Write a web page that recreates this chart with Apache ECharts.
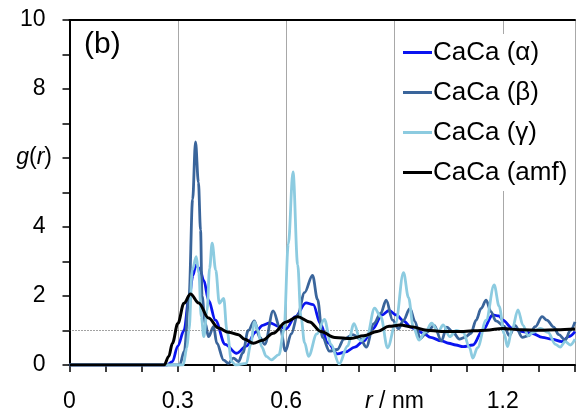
<!DOCTYPE html>
<html>
<head>
<meta charset="utf-8">
<script src="https://cdn.jsdelivr.net/npm/echarts@6/dist/echarts.min.js"></script>
<style>html,body{margin:0;padding:0;background:#fff}#c{width:578px;height:417px}</style>
</head>
<body>
<div id="c"></div>
<script>
var seriesNames = ['CaCa (\u03b1)', 'CaCa (\u03b2)', 'CaCa (\u03b3)', 'CaCa (amf)'];
var xTickLabels = ['0', '0.3', '0.6', 'r / nm', '1.2'];
var yTickLabels = ['0', '2', '4', 'g(r)', '8', '10'];

var alphaR = [0, 0.27, 0.285, 0.30, 0.317, 0.331, 0.342, 0.350, 0.360, 0.372, 0.385, 0.404, 0.431, 0.463, 0.49, 0.515, 0.535, 0.555, 0.58, 0.60, 0.625, 0.655, 0.675, 0.695, 0.715, 0.742, 0.765, 0.79, 0.815, 0.84, 0.865, 0.885, 0.905, 0.925, 0.945, 0.96, 0.98, 1.0, 1.03, 1.05, 1.07, 1.09, 1.117, 1.145, 1.172, 1.19, 1.2, 1.227, 1.254, 1.28, 1.31, 1.335, 1.364, 1.382, 1.40];
var alphaG = [0, 0, 0.1, 0.55, 1.0, 1.95, 2.6, 2.9, 2.8, 2.45, 1.88, 1.3, 0.6, 0.34, 0.55, 0.95, 1.15, 1.22, 1.12, 1.05, 1.4, 1.8, 1.75, 1.2, 0.65, 0.32, 0.38, 0.52, 0.7, 1.05, 1.45, 1.58, 1.45, 1.28, 1.1, 1.02, 0.92, 0.8, 0.7, 0.63, 0.58, 0.53, 0.58, 1.01, 1.45, 1.42, 1.3, 1.06, 0.97, 0.92, 0.8, 0.75, 0.68, 0.82, 0.97];

var betaR = [0, 0.305, 0.318, 0.331, 0.341, 0.349, 0.357, 0.363, 0.367, 0.376, 0.385, 0.399, 0.408, 0.427, 0.44, 0.454, 0.468, 0.48, 0.495, 0.512, 0.527, 0.541, 0.564, 0.584, 0.598, 0.614, 0.632, 0.651, 0.673, 0.687, 0.701, 0.72, 0.742, 0.76, 0.785, 0.806, 0.822, 0.843, 0.862, 0.877, 0.895, 0.911, 0.925, 0.943, 0.957, 0.971, 0.99, 1.01, 1.03, 1.045, 1.062, 1.08, 1.095, 1.112, 1.126, 1.14, 1.154, 1.167, 1.181, 1.204, 1.218, 1.234, 1.254, 1.272, 1.29, 1.309, 1.322, 1.341, 1.355, 1.373, 1.387, 1.40];
var betaG = [0, 0, 0.4, 1.98, 4.8, 6.47, 5.3, 3.91, 2.0, 1.21, 0.82, 1.11, 0.63, 0.14, 0.05, 0.2, 0.1, 0.35, 1.0, 1.28, 0.8, 0.6, 1.57, 1.05, 0.41, 0.9, 1.45, 2.1, 2.6, 1.9, 0.8, 0.4, 0.45, 0.75, 0.88, 0.75, 0.52, 1.2, 1.5, 1.88, 1.3, 1.05, 1.3, 1.64, 1.26, 0.77, 0.95, 1.15, 0.7, 1.1, 0.95, 0.75, 0.8, 0.92, 1.3, 1.64, 1.88, 1.55, 1.28, 1.12, 0.85, 1.15, 0.8, 0.85, 1.11, 1.4, 1.3, 1.1, 0.88, 0.72, 1.0, 1.25];

var gammaR = [0, 0.315, 0.325, 0.331, 0.34, 0.351, 0.358, 0.365, 0.372, 0.381, 0.388, 0.395, 0.405, 0.415, 0.427, 0.436, 0.449, 0.46, 0.49, 0.502, 0.512, 0.522, 0.532, 0.545, 0.559, 0.58, 0.594, 0.606, 0.619, 0.632, 0.641, 0.651, 0.662, 0.685, 0.706, 0.724, 0.747, 0.77, 0.788, 0.806, 0.824, 0.845, 0.862, 0.881, 0.903, 0.925, 0.939, 0.952, 0.968, 0.985, 1.003, 1.021, 1.035, 1.053, 1.071, 1.09, 1.108, 1.117, 1.13, 1.154, 1.176, 1.19, 1.204, 1.213, 1.225, 1.242, 1.256, 1.27, 1.285, 1.304, 1.325, 1.346, 1.359, 1.373, 1.387, 1.40];
var gammaG = [0, 0, 0.5, 1.01, 2.75, 3.14, 2.66, 1.4, 0.82, 1.59, 2.8, 3.53, 2.75, 1.79, 1.93, 1.01, 0.1, 0, 0.05, 0.6, 1.25, 1.0, 0.53, 0.25, 0.15, 0.3, 1.0, 3.5, 5.6, 2.9, 1.4, 0.65, 0.25, 0.9, 1.32, 0.6, 0.03, 0.55, 1.2, 0.7, 0.85, 1.65, 1.4, 0.5, 1.2, 2.68, 1.95, 1.11, 0.72, 0.95, 1.21, 0.97, 1.16, 0.82, 1.0, 0.95, 0.5, 0.2, 0.5, 1.3, 2.32, 1.7, 0.9, 0.53, 1.0, 1.6, 1.15, 0.85, 0.95, 1.06, 0.95, 0.6, 0.52, 0.68, 0.58, 0.75];

var amfR = [0, 0.262, 0.275, 0.285, 0.30, 0.317, 0.335, 0.358, 0.385, 0.413, 0.44, 0.468, 0.485, 0.509, 0.535, 0.564, 0.60, 0.632, 0.665, 0.696, 0.735, 0.779, 0.815, 0.852, 0.885, 0.916, 0.95, 0.989, 1.03, 1.085, 1.154, 1.2, 1.25, 1.3, 1.35, 1.40];
var amfG = [0, 0, 0.25, 0.63, 1.2, 1.79, 2.06, 1.8, 1.36, 1.07, 0.95, 0.88, 0.75, 0.63, 0.72, 0.92, 1.25, 1.4, 1.25, 0.97, 0.8, 0.77, 0.85, 0.97, 1.12, 1.16, 1.1, 1.01, 0.97, 0.97, 1.01, 1.06, 1.02, 1.01, 1.02, 1.04];

function pairs(r, g) { return r.map(function (v, i) { return [v, g[i]]; }); }

var FONT = 'Liberation Sans, Arial, sans-serif';
var colors = ['#0a14f0', '#3a659b', '#8ccbe0', '#000000'];
var dataSets = [pairs(alphaR, alphaG), pairs(betaR, betaG), pairs(gammaR, gammaG), pairs(amfR, amfG)];

var chart = echarts.init(document.getElementById('c'), null, { renderer: 'canvas' });

var series = dataSets.map(function (d, i) {
  var s = {
    name: seriesNames[i],
    type: 'line',
    data: d,
    smooth: 0.35,
    smoothMonotone: 'x',
    symbol: 'none',
    showSymbol: false,
    lineStyle: { color: colors[i], width: i === 3 ? 3 : 2.8 },
    itemStyle: { color: colors[i] },
    emphasis: { disabled: true },
    silent: true,
    z: 3 + i
  };
  if (i === 0) {
    s.markLine = {
      silent: true,
      symbol: ['none', 'none'],
      label: { show: false },
      lineStyle: { type: [1, 2], color: '#444', width: 1 },
      data: [{ yAxis: 1 }]
    };
  }
  return s;
});

chart.setOption({
  animation: false,
  backgroundColor: '#fff',
  grid: { left: 69.5, right: -2, top: 20, bottom: 52, containLabel: false },
  xAxis: [{
    type: 'value', min: 0, max: 1.4, interval: 0.1, position: 'bottom',
    axisLine: { show: true, onZero: false, lineStyle: { color: '#000', width: 2 } },
    axisTick: { show: true, inside: false, length: 7, lineStyle: { color: '#000', width: 1.5 } },
    splitLine: { show: false },
    axisLabel: {
      color: '#000', fontSize: 23, fontFamily: FONT, margin: 25,
      formatter: function (v) {
        var k = Math.round(v * 10);
        if (k % 3 !== 0) return '';
        var t = xTickLabels[k / 3];
        if (t === undefined) return '';
        if (t === 'r / nm') return '{i|r} / nm';
        return t;
      },
      rich: { i: { fontStyle: 'italic', fontSize: 23, fontFamily: FONT, color: '#000' } }
    }
  }, {
    type: 'value', min: 0, max: 1.4, interval: 0.3, position: 'top',
    axisLine: { show: true, onZero: false, lineStyle: { color: '#000', width: 2 } },
    axisTick: { show: false }, axisLabel: { show: false },
    splitLine: { show: true, lineStyle: { color: '#a8a8a8', width: 1 } }
  }],
  yAxis: {
    type: 'value', min: 0, max: 10, interval: 1,
    axisLine: { show: true, lineStyle: { color: '#000', width: 2 } },
    axisTick: { show: true, inside: false, length: 7, lineStyle: { color: '#000', width: 1.5 } },
    splitLine: { show: false },
    axisLabel: {
      color: '#000', fontSize: 23, fontFamily: FONT, margin: 24,
      formatter: function (v) {
        if (v % 2 !== 0) return '';
        var t = yTickLabels[v / 2];
        return t === 'g(r)' ? '' : t;
      }
    }
  },
  legend: {
    data: seriesNames,
    orient: 'vertical',
    left: 400, top: 34,
    padding: [4, 4, 4, 3],
    itemWidth: 29, itemHeight: 3, itemGap: 11,
    backgroundColor: '#fff',
    icon: 'rect',
    selectedMode: false,
    textStyle: { color: '#000', fontSize: 26, fontFamily: FONT, lineHeight: 29, padding: [0, 0, 0, -4] }
  },
  series: series
});

var yTitle = chart.convertToPixel({ yAxisIndex: 0 }, 6);
chart.setOption({
  graphic: [{
    type: 'text', left: 84, top: 30, z: 100,
    style: { text: '(b)', font: '30px ' + FONT, fill: '#000' }
  }, {
    type: 'text', z: 100,
    x: 52, y: yTitle,
    style: {
      text: '{i|g}({i|r})', align: 'right', verticalAlign: 'middle',
      font: '23px ' + FONT, fill: '#000',
      rich: { i: { fontStyle: 'italic', font: 'italic 23px ' + FONT, fill: '#000' } }
    }
  }]
});
</script>
</body>
</html>
